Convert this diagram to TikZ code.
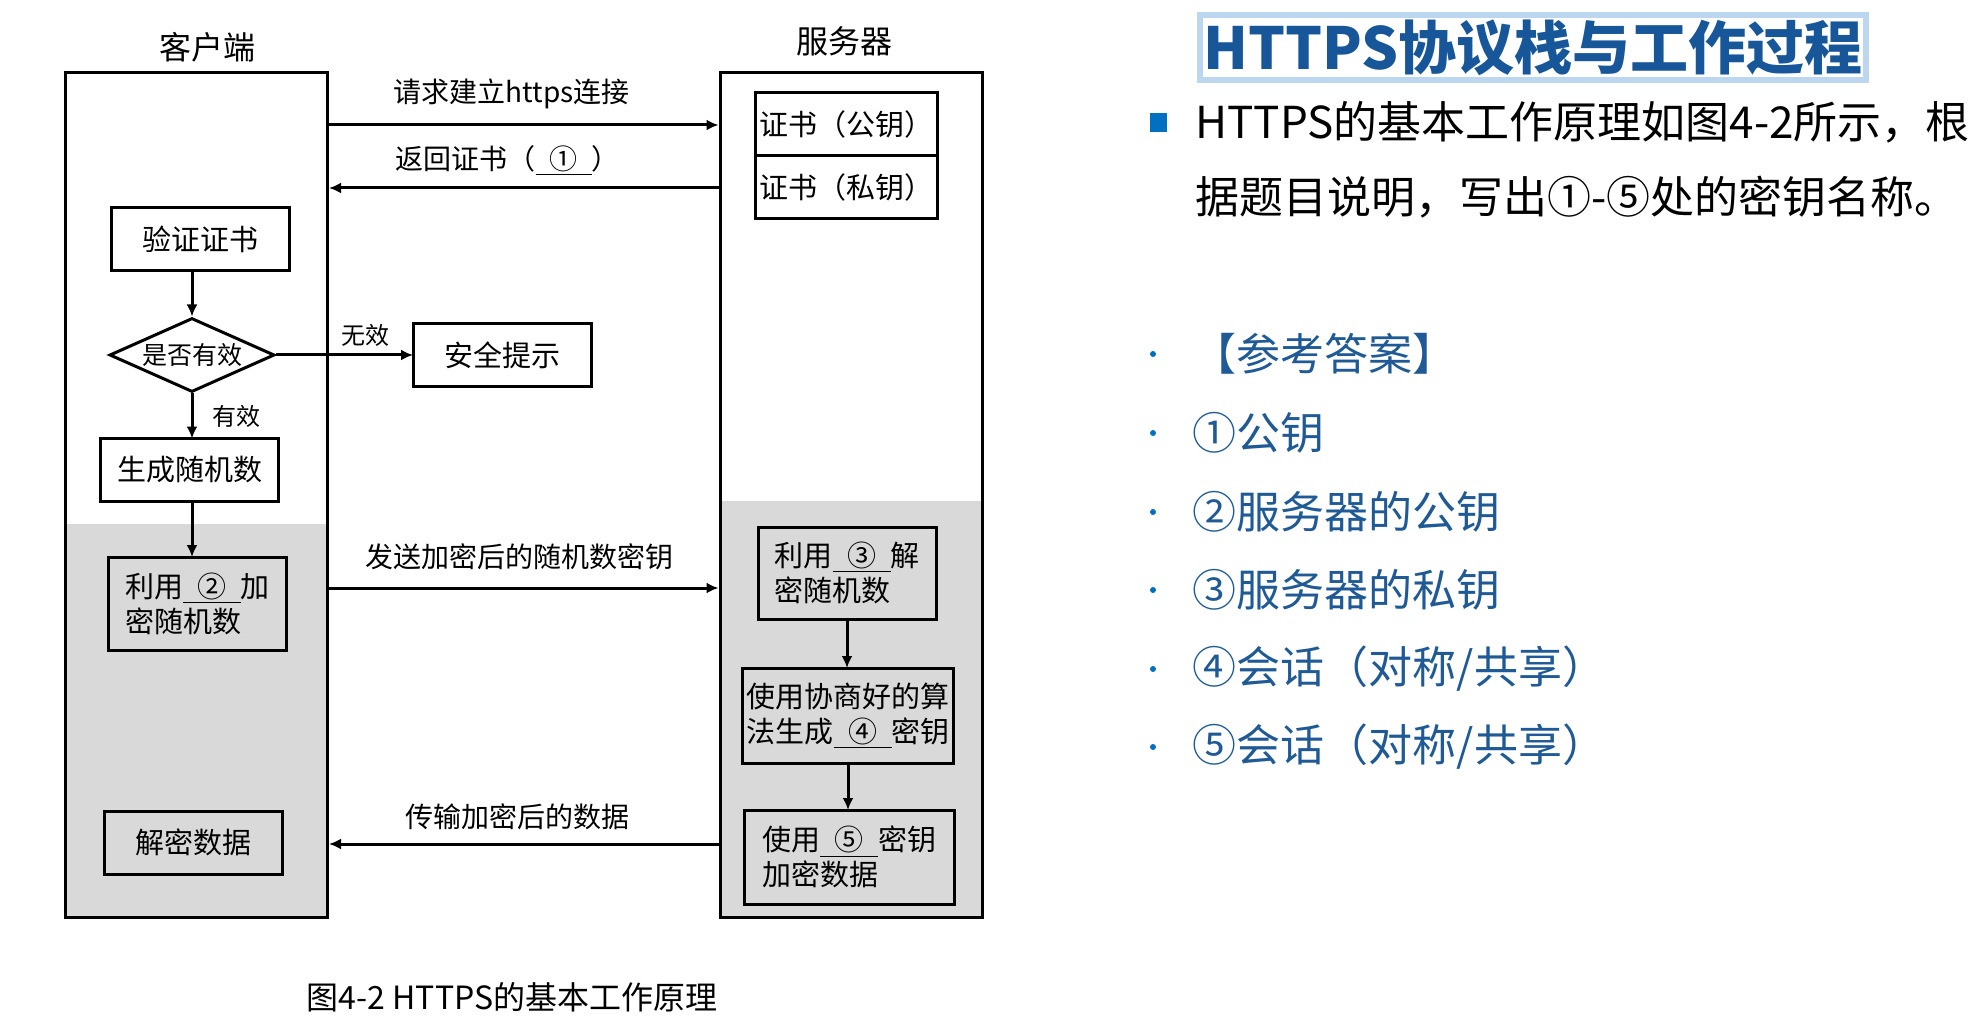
\documentclass[tikz,border=0pt]{standalone}
\usepackage{fontspec}
\setmainfont{Noto Sans CJK SC}
\usepackage{tikz}
\usetikzlibrary{positioning,shapes.geometric,arrows.meta}
\usepackage{xcolor}

\definecolor{titleblue}{RGB}{23,87,153}
\definecolor{markblue}{RGB}{0,112,192}
\definecolor{answerblue}{RGB}{31,90,150}
\definecolor{glowblue}{RGB}{188,214,240}
\definecolor{laneshade}{RGB}{217,217,217}

\newcommand{\keyblank}[1]{\underline{\makebox[2em]{#1}}}

\begin{document}
\begin{tikzpicture}[x=0.5pt,y=-0.5pt,lanebox/.style={draw, rectangle, line width=1.5pt, minimum width=131pt, minimum height=422pt, inner sep=0pt},procbox/.style={draw, rectangle, line width=1.5pt, outer sep=0pt, inner xsep=2pt, align=center, minimum width=89pt, minimum height=31.5pt, font=\fontsize{14.5pt}{17.5pt}\selectfont},checkbox/.style={draw, diamond, line width=1.5pt, aspect=2.2, inner sep=0pt, minimum width=82.5pt, minimum height=37pt, font=\fontsize{12.5pt}{15pt}\selectfont},flowarrow/.style={line width=1.5pt, -{Latex[length=6pt,width=5.5pt]}},msgtext/.style={font=\fontsize{14pt}{17pt}\selectfont},smalltext/.style={font=\fontsize{12pt}{14pt}\selectfont},headtext/.style={font=\fontsize{16pt}{19pt}\selectfont},anstext/.style={text=answerblue, inner sep=0pt, font=\fontsize{22pt}{26pt}\selectfont},ansdot/.style={circle, fill=markblue, inner sep=0pt, minimum size=3pt}]
  \useasboundingbox (0,0) rectangle (1977,1032);
  % client and server columns
  \node[lanebox] (client) at (196.5,495) {};
  \node[lanebox] (server) at (851,495) {};
  \coordinate (cshade) at (0,524);
  \coordinate (sshade) at (0,501);
  \fill[laneshade] ([xshift=1.5pt]client.west |- cshade) rectangle ([xshift=-1.5pt,yshift=1.5pt]client.south east);
  \fill[laneshade] ([xshift=1.5pt]server.west |- sshade) rectangle ([xshift=-1.5pt,yshift=1.5pt]server.south east);
  \node[headtext, above=1pt of client, xshift=5.5pt] (chead) {客户端};
  \node[headtext, above=4pt of server, xshift=-3.5pt] (shead) {服务器};

  % server side
  \node[procbox] (pub) at (846.5,124.5) {证书（公钥）};
  \node[procbox, below=0pt of pub] (priv) {证书（私钥）};
  \node[procbox, align=left, minimum height=46pt] (dec) at (847,573) {利用\keyblank{③}解\\密随机数};
  \node[procbox, align=left, minimum width=105pt, minimum height=47.5pt] (derive) at (848,715.5) {使用协商好的算\\法生成\keyblank{④}密钥};
  \node[procbox, align=left, minimum width=105pt, minimum height=47pt] (seal) at (849,857) {使用\keyblank{⑤}密钥\\加密数据};

  % client side
  \node[procbox] (verify) at (200.5,239.5) {验证证书};
  \node[checkbox] (valid) at (192,355) {是否有效};
  \node[procbox, right=68.5pt of valid] (warn) {安全提示};
  \node[procbox] (rand) at (189.5,470) {生成随机数};
  \node[procbox, align=left, minimum height=46.5pt] (enc) at (197.5,603.5) {利用\keyblank{②}加\\密随机数};
  \node[procbox] (plain) at (193,842.5) {解密数据};

  \draw[flowarrow] (verify.south -| valid.north) -- (valid.north);
  \draw[flowarrow] (valid.east) -- node[smalltext, pos=0.65, above] {无效} (warn.west);
  \draw[flowarrow] (valid.south) -- node[smalltext, right=6pt] {有效} (valid.south |- rand.north);
  \draw[flowarrow] (valid.south |- rand.south) -- (valid.south |- enc.north);
  \draw[flowarrow] (dec.south) -- (dec.south |- derive.north);
  \draw[flowarrow] (derive.south) -- (derive.south |- seal.north);

  % messages between the columns
  \coordinate (yreq) at (0,125);
  \coordinate (ycert) at (0,188);
  \coordinate (ysend) at (0,588);
  \coordinate (ydata) at (0,844);
  \draw[flowarrow] (client.east |- yreq) -- node[msgtext, above=4pt, xshift=-6pt] {请求建立https连接} (server.west |- yreq);
  \draw[flowarrow] (server.west |- ycert) -- node[msgtext, above=2pt, xshift=-8pt] {返回证书（\keyblank{①}）} (client.east |- ycert);
  \draw[flowarrow] (client.east |- ysend) -- node[msgtext, above=5pt, xshift=-2pt] {发送加密后的随机数密钥} (server.west |- ysend);
  \draw[flowarrow] (server.west |- ydata) -- node[msgtext, above=3pt, xshift=-3pt] {传输加密后的数据} (client.east |- ydata);

  \node[headtext] (caption) at (512,997) {图4-2 HTTPS的基本工作原理};

  % right half: question and answers
  \node[draw=glowblue, line width=3pt, fill=white, inner sep=0pt, minimum width=333pt, minimum height=32.5pt, text=titleblue, font=\fontsize{29pt}{32pt}\selectfont\bfseries] (title) at (1533,48) {HTTPS协议栈与工作过程};
  \node[fill=markblue, inner sep=0pt, minimum width=8.5pt, minimum height=9.5pt] (mark) at (1158.5,122.5) {};
  \node[anchor=west, align=left, inner sep=0pt, font=\fontsize{22pt}{37.5pt}\selectfont] (question) at (1195,160) {HTTPS的基本工作原理如图4-2所示，根\\据题目说明，写出①-⑤处的密钥名称。};

  \node[ansdot] (d0) at (1153,354) {};
  \node[anstext, right=18pt of d0] (a0) {【参考答案】};
  \node[ansdot] (d1) at (1153,433) {};
  \node[anstext, right=18pt of d1] (a1) {①公钥};
  \node[ansdot] (d2) at (1153,512) {};
  \node[anstext, right=18pt of d2] (a2) {②服务器的公钥};
  \node[ansdot] (d3) at (1153,590) {};
  \node[anstext, right=18pt of d3] (a3) {③服务器的私钥};
  \node[ansdot] (d4) at (1153,669) {};
  \node[anstext, right=18pt of d4] (a4) {④会话（对称/共享）};
  \node[ansdot] (d5) at (1153,747) {};
  \node[anstext, right=18pt of d5] (a5) {⑤会话（对称/共享）};
\end{tikzpicture}
\end{document}
